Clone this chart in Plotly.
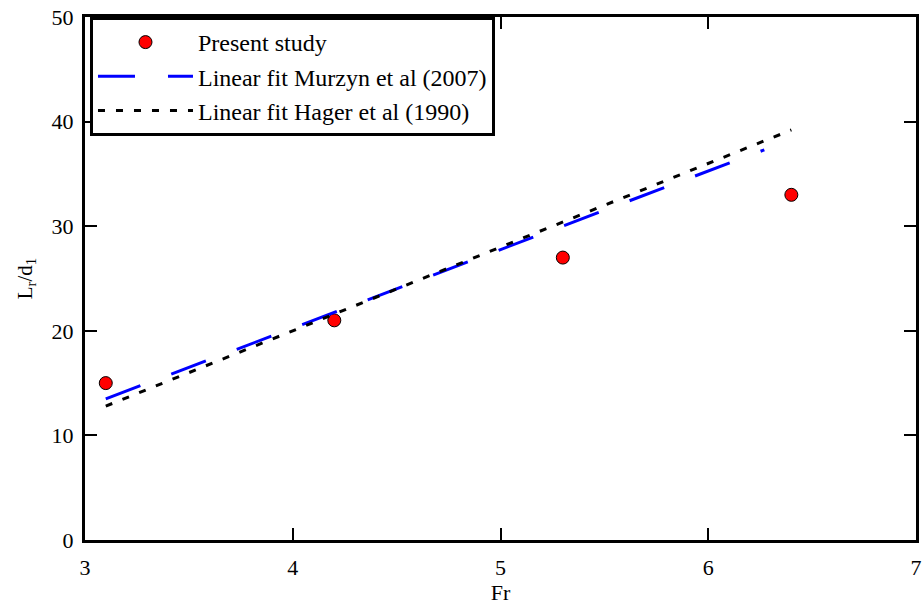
import plotly.graph_objects as go

# Measured roller lengths
fr_measured = [3.1, 4.2, 5.3, 6.4]
lr_measured = [15, 21, 27, 33]

# Linear fit, Murzyn et al (2007)
fr_murzyn = [3.1, 6.27]
lr_murzyn = [13.5, 37.3]

# Linear fit, Hager et al (1990)
fr_hager = [3.1, 6.4]
lr_hager = [12.8, 39.2]

x_ticks = [3, 4, 5, 6, 7]
y_ticks = [0, 10, 20, 30, 40, 50]

font_family = "Liberation Serif, Times New Roman, serif"

fig = go.Figure()
fig.add_trace(go.Scatter(
    x=fr_measured, y=lr_measured, mode="markers", name="Present study",
    marker=dict(color="#ff0000", size=13, line=dict(color="black", width=1)),
))
fig.add_trace(go.Scatter(
    x=fr_murzyn, y=lr_murzyn, mode="lines", name="Linear fit Murzyn et al (2007)",
    line=dict(color="#0000ff", width=3, dash="37px,33px"),
))
fig.add_trace(go.Scatter(
    x=fr_hager, y=lr_hager, mode="lines", name="Linear fit Hager et al (1990)",
    line=dict(color="black", width=3, dash="7px,11px"),
))

axis_common = dict(
    showline=True, linecolor="black", linewidth=3, mirror="ticks",
    ticks="inside", ticklen=12, tickwidth=2, tickcolor="black",
    showgrid=False, zeroline=False, ticklabeloverflow="allow",
    tickfont=dict(family=font_family, size=22, color="black"),
)

fig.update_xaxes(
    range=[3, 7], tickvals=x_ticks, ticktext=[str(v) for v in x_ticks],
    ticklabelstandoff=6,
    title=dict(text="Fr", font=dict(family=font_family, size=22, color="black"), standoff=2),
    **axis_common,
)
fig.update_yaxes(
    range=[0, 50], tickvals=y_ticks, ticktext=[str(v) for v in y_ticks],
    ticklabelstandoff=4,
    title=dict(text="L<sub>r</sub>/d<sub>1</sub>", font=dict(family=font_family, size=21, color="black"), standoff=14),
    **axis_common,
)

fig.update_layout(
    width=923, height=606,
    margin=dict(l=85, r=1, t=17, b=66),
    paper_bgcolor="white", plot_bgcolor="white",
    showlegend=True,
    legend=dict(
        x=0.006, y=1.0, xanchor="left", yanchor="top",
        bordercolor="black", borderwidth=3, bgcolor="white",
        font=dict(family=font_family, size=24, color="black"),
        itemwidth=95, tracegroupgap=0,
    ),
)

fig.write_html("out.html")
